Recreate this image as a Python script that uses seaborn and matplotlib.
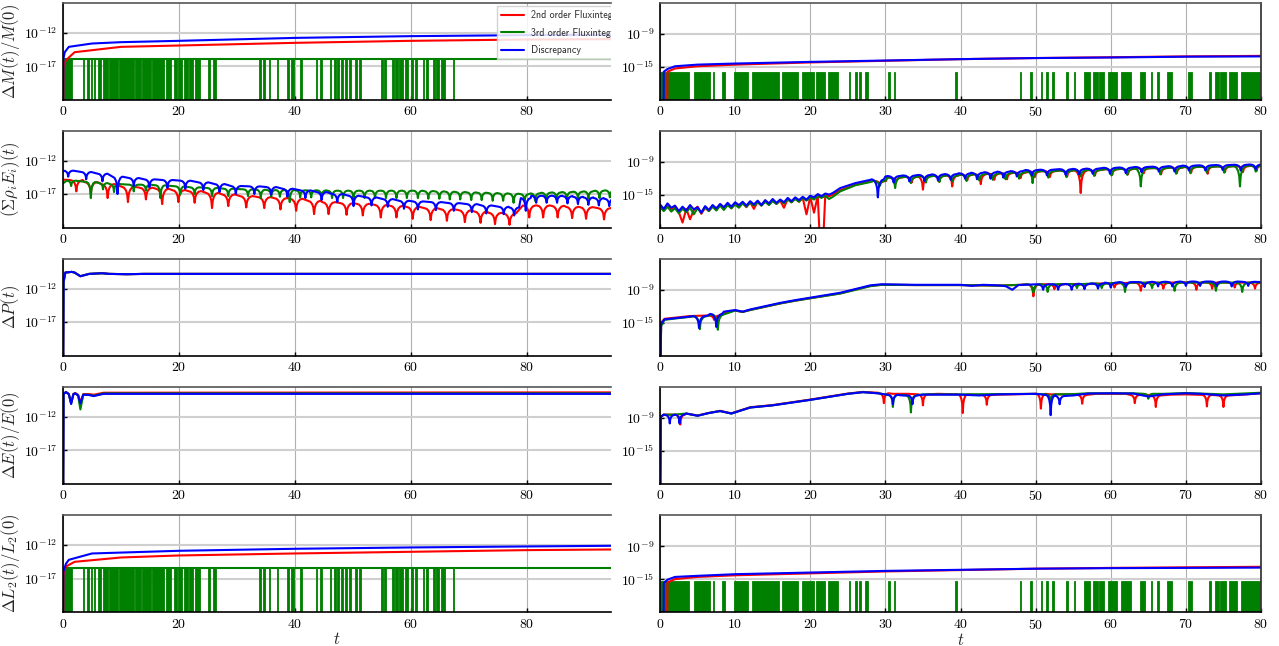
import numpy as np
import seaborn as sns
import matplotlib
matplotlib.use("Agg")
import matplotlib.pyplot as plt

# ---------------------------------------------------------------------------
# Data (log10 values).  knots = (t, log10 y),
# dips = (t, log10 top of the cusp, log10 bottom of the cusp)
# ---------------------------------------------------------------------------
ZERO = -30  # exact zero, drawn below the axis

# legend texts are cut off by the panel edge in the reference
labels = ["2nd order Fluxintegr", "3rd order Fluxintegr", "Discrepancy"]
ylabels = [r"$\Delta M(t)/M(0)$", r"$(\Sigma\rho_i E_i)(t)$", r"$\Delta P(t)$",
           r"$\Delta E(t)/E(0)$", r"$\Delta L_2(t)/L_2(0)$"]

# ---- row 1, left : mass
red_M_L = [(0, ZERO), (0.1, -17.0), (0.5, -16.1), (2, -14.9), (10, -14.1), (20, -13.9),
           (40, -13.5), (60, -13.2), (80, -13.0), (95, -12.95)]
blue_M_L = [(0, ZERO), (0.05, -16.0), (0.3, -14.9), (1, -14.1), (5, -13.6), (10, -13.4),
            (20, -13.2), (40, -12.76), (60, -12.5), (80, -12.35), (95, -12.3)]
green_M_L_level = -15.9
# intervals where the left green series drops to zero
green_drops_L = [(0, 1.6), (3.4, 3.6), (4.2, 4.4), (4.8, 5.0), (5.3, 5.6), (6.0, 6.6), (6.9, 7.8),
                 (8.0, 9.4), (9.6, 12.2), (12.5, 13.5), (13.7, 15.2), (15.4, 17.5), (17.7, 18.6),
                 (19.1, 19.6), (19.9, 20.6), (20.9, 21.5), (21.8, 22.4), (22.8, 23.6), (25.0, 25.3),
                 (25.8, 26.4), (33.8, 34.1), (34.5, 34.9), (35.5, 35.7), (36.9, 37.1), (38.6, 38.9),
                 (39.4, 39.8), (40.8, 41.2), (43.6, 43.8), (44.4, 44.7), (46.0, 46.3), (46.8, 47.0),
                 (47.3, 47.6), (48.0, 48.3), (48.6, 49.0), (49.3, 49.7), (50.4, 50.7), (51.1, 51.4),
                 (54.9, 55.2), (55.4, 55.7), (56.7, 57.0), (57.3, 57.8), (58.0, 58.6), (58.9, 59.5),
                 (60.0, 60.3), (60.7, 61.0), (62.0, 62.3), (62.6, 63.0), (63.8, 64.1), (64.4, 64.8),
                 (65.2, 65.8), (67.3, 67.5)]

# ---- row 1, right : mass
red_M_R = [(0.9, ZERO), (1.0, -15.9), (2, -15.3), (5, -14.9), (10, -14.6), (20, -14.2), (30, -13.9),
           (40, -13.6), (50, -13.4), (60, -13.25), (70, -13.1), (80, -13.0)]
blue_M_R = [(0.45, ZERO), (0.5, -15.9), (1, -15.4), (2, -14.9), (5, -14.6), (10, -14.4), (20, -14.1),
            (30, -13.85), (40, -13.6), (50, -13.4), (60, -13.3), (70, -13.15), (80, -13.1)]
green_M_R_level = -15.9
# intervals where the right green series is non-zero
green_hits_R = [(0, 3.8), (4.5, 6.7), (7.0, 7.2), (8.3, 8.6), (9.8, 11.7), (12.2, 15.9), (16.2, 18.4),
                (18.9, 20.5), (20.8, 22.0), (22.3, 23.7), (25.1, 25.3), (26.0, 26.2), (26.5, 26.8),
                (27.3, 27.7), (30.3, 30.6), (31.1, 31.3), (39.3, 39.5), (47.9, 48.1), (49.2, 49.5),
                (50.7, 50.9), (51.4, 51.6), (52.2, 52.4), (54.1, 54.3), (55.1, 55.3), (56.4, 57.2),
                (57.6, 58.3), (58.5, 59.1), (59.7, 60.8), (61.3, 62.7), (63.9, 64.5), (65.3, 65.5),
                (66.2, 66.4), (67.5, 68.2), (70.3, 70.8), (73.1, 73.3), (73.9, 74.4), (74.6, 75.4),
                (75.7, 76.8), (77.3, 80.0)]

# ---- row 2, left : sum rho_i E_i
red_S_L = [(0, -14.85), (95.4, -19.2)]
red_S_L_dips = [(2.3, -14.9, -16.6), (4.8, -15.2, -17.0), (7.7, -15.5, -17.6), (11.2, -15.9, -18.2),
                (14.3, -16.05, -17.8), (17.1, -16.2, -18.5), (19.9, -16.4, -18.2), (22.7, -16.55, -18.3),
                (25.7, -16.8, -19.1), (28.5, -17.05, -18.8), (31.6, -17.3, -19.0), (34.7, -17.45, -19.1),
                (37.5, -17.6, -19.3), (40.2, -17.7, -19.5), (43.3, -18.0, -20.0), (45.8, -18.2, -20.0),
                (48.9, -18.35, -20.1), (51.7, -18.45, -20.2), (54.8, -18.6, -20.5), (57.5, -18.75, -20.5),
                (60.3, -18.9, -20.7), (63.4, -19.1, -20.9), (66.2, -19.25, -21.0), (69.3, -19.4, -21.2),
                (72.0, -19.6, -21.3), (74.5, -19.8, -21.5), (77.0, -19.9, -21.6), (80.4, -18.7, -20.5),
                (82.8, -18.7, -20.5), (85.3, -18.75, -20.5), (87.8, -18.9, -20.6), (90.2, -18.95, -20.7),
                (93.3, -19.1, -20.8)]
green_S_L = [(0, -15.4), (95.4, -16.4)]
green_S_L_dips = [(1.4, -15.0, -15.8), (4.8, -15.2, -17.6), (6.9, -15.35, -16.3), (8.8, -15.5, -16.7),
                  (12.2, -15.6, -16.6), (14.3, -15.6, -16.5), (16.8, -15.7, -17.6), (20.2, -15.85, -17.1),
                  (22.7, -16.0, -17.0), (25.7, -16.1, -17.3), (28.5, -16.2, -17.3), (31.9, -16.3, -17.3),
                  (34.1, -16.35, -17.6), (35.9, -16.4, -17.4), (37.4, -16.4, -17.4), (39.1, -16.4, -18.2),
                  (40.9, -16.45, -17.5), (42.8, -16.45, -17.5), (44.6, -16.45, -17.5), (46.4, -16.5, -17.6),
                  (48.3, -16.5, -17.6), (50.1, -16.5, -17.6), (52.0, -16.5, -17.6), (53.8, -16.5, -17.6),
                  (55.7, -16.5, -17.6), (57.5, -16.5, -17.6), (59.3, -16.5, -17.6), (61.2, -16.5, -17.6),
                  (63.0, -16.55, -17.7), (64.9, -16.6, -17.7), (66.7, -16.65, -17.8), (68.5, -16.7, -17.8),
                  (70.4, -16.75, -17.9), (72.2, -16.8, -17.9), (74.1, -16.85, -18.0), (75.9, -16.9, -18.0),
                  (77.7, -16.95, -18.3), (79.6, -17.0, -18.1), (81.4, -16.9, -18.0), (83.3, -16.8, -17.9),
                  (85.1, -16.75, -17.8), (86.9, -16.7, -17.8), (88.8, -16.65, -17.7), (90.6, -16.6, -17.7),
                  (92.5, -16.5, -17.6), (94.3, -16.45, -17.5)]
blue_S_L = [(0, -13.5), (95.4, -17.7)]
blue_S_L_dips = [(0.9, -13.5, -14.4), (4.0, -13.7, -14.8), (6.8, -13.95, -15.1), (9.4, -14.4, -17.0),
                 (12.2, -14.6, -15.8), (14.9, -14.8, -16.0), (18.0, -14.9, -16.1), (21.1, -15.0, -16.2),
                 (24.2, -15.25, -16.4), (27.0, -15.5, -16.7), (29.8, -15.8, -17.0), (33.0, -15.85, -17.0),
                 (35.9, -15.95, -17.1), (38.7, -16.2, -17.4), (41.8, -16.45, -17.6), (44.6, -16.7, -17.9),
                 (47.3, -17.0, -18.2), (50.1, -17.25, -18.8), (53.2, -17.5, -18.7), (56.0, -17.75, -18.9),
                 (58.8, -18.0, -19.2), (61.2, -18.1, -19.3), (64.3, -18.2, -19.4), (67.4, -18.35, -19.5),
                 (70.5, -18.5, -19.7), (73.0, -18.7, -19.9), (76.0, -18.9, -20.0), (77.8, -19.0, -20.2),
                 (79.8, -17.6, -19.5), (81.6, -17.25, -18.3), (83.4, -17.25, -18.3), (85.2, -17.25, -18.3),
                 (87.0, -17.3, -18.4), (88.8, -17.4, -18.5), (90.6, -17.5, -18.6), (92.4, -17.6, -18.7),
                 (94.2, -17.7, -18.8)]

# ---- row 2, right : sum rho_i E_i (noisy start sampled every 0.5)
noise_t = np.arange(0, 23.5, 0.5)
blue_S_R_noise = [-16.8, -17.6, -16.6, -17.4, -17.0, -18.0, -17.2, -17.9, -16.9, -17.7, -17.3, -18.3,
                  -17.1, -17.8, -16.9, -17.5, -16.7, -17.3, -16.5, -17.2, -16.4, -16.9, -16.3, -17.0,
                  -16.2, -16.8, -16.1, -16.9, -16.0, -16.6, -15.8, -16.5, -15.9, -16.4, -15.6, -16.2,
                  -15.5, -16.0, -15.4, -15.9, -15.2, -15.5, -14.9, -15.3, -14.8, -15.0, -14.7]
red_S_R_noise = [-17.0, -17.9, -17.1, -17.8, -17.3, -18.2, -20.1, -17.6, -19.5, -17.8, -17.2, -18.5,
                 -17.4, -18.0, -17.1, -17.8, -16.9, -17.6, -16.8, -17.5, -16.6, -17.2, -16.5, -17.3,
                 -16.4, -17.6, -16.3, -17.0, -16.2, -16.8, -16.0, -16.7, -16.1, -17.4, -15.8, -16.4,
                 -15.7, -16.3, -15.6, -18.6, -15.4, -18.3, -15.2, ZERO, -15.1, -15.3, -15.0]
green_S_R_noise = [-17.3, -18.0, -17.2, -18.1, -17.5, -18.4, -17.6, -18.2, -17.4, -18.6, -17.5, -18.3,
                   -17.3, -18.0, -17.2, -17.9, -17.0, -17.8, -16.9, -17.5, -16.8, -17.4, -16.6, -17.2,
                   -16.5, -17.0, -16.4, -17.0, -16.3, -16.9, -16.2, -16.7, -16.0, -16.6, -15.9, -16.4,
                   -15.8, -16.3, -15.6, -16.1, -15.5, -15.9, -15.3, -15.6, -15.2, -15.8, -15.4]
blue_S_R = [(24, -13.8), (26, -12.9), (28, -12.3), (30, -11.7), (80, -9.45)]
blue_S_R_dips = [(29.0, -12.2, -15.5), (31.1, -11.6, -12.8), (33.2, -11.5, -12.6), (35.2, -11.4, -12.5),
                 (37.0, -11.3, -12.4), (38.7, -11.25, -12.3), (40.6, -11.1, -12.1), (42.2, -11.0, -12.2),
                 (44.0, -10.9, -12.1), (45.7, -10.8, -11.9), (47.5, -10.7, -11.7), (49.5, -10.5, -11.5),
                 (51.5, -10.45, -11.5), (54.0, -10.35, -11.4), (55.8, -10.3, -11.3), (57.6, -10.25, -11.2),
                 (59.9, -10.1, -11.2), (62.0, -10.05, -11.1), (64.1, -9.95, -10.9), (66.4, -9.9, -10.8),
                 (68.5, -9.8, -10.8), (70.4, -9.7, -10.6), (72.6, -9.65, -10.6), (74.9, -9.6, -10.5),
                 (77.3, -9.55, -10.6), (79.3, -9.5, -10.4)]
red_S_R = [(24, -14.2), (26, -13.2), (28, -12.6), (30.2, -11.95), (80, -9.6)]
red_S_R_dips = [(29.3, -12.5, -13.3), (31.4, -11.85, -12.9), (33.5, -11.75, -12.8), (35.0, -11.65, -14.1),
                (37.1, -11.55, -12.6), (38.9, -11.5, -13.5), (40.9, -11.35, -12.4), (42.7, -11.25, -13.1),
                (44.5, -11.15, -12.3), (46.2, -11.05, -12.2), (48.0, -10.95, -12.0), (49.9, -10.75, -11.8),
                (51.9, -10.7, -11.8), (54.2, -10.6, -11.7), (56.0, -10.6, -14.7), (57.9, -10.5, -11.5),
                (60.2, -10.35, -11.4), (62.3, -10.3, -11.3), (64.4, -10.2, -11.1), (66.7, -10.15, -11.3),
                (68.8, -10.05, -11.1), (70.7, -9.95, -11.0), (72.9, -9.9, -11.2), (75.2, -9.85, -10.9),
                (77.6, -9.8, -10.9), (79.4, -9.7, -10.7)]
green_S_R = [(24, -14.4), (26, -13.3), (28, -12.7), (30.2, -12.0), (80, -9.6)]
green_S_R_dips = [(29.2, -12.5, -13.5), (31.3, -11.85, -13.8), (33.4, -11.75, -12.9), (35.4, -11.65, -12.8),
                  (37.2, -11.55, -12.7), (38.9, -11.5, -12.6), (40.8, -11.35, -12.5), (42.5, -11.25, -12.4),
                  (44.3, -11.15, -12.3), (46.0, -11.05, -12.2), (47.8, -10.95, -12.1), (49.6, -10.75, -12.9),
                  (51.7, -10.7, -11.9), (54.1, -10.6, -11.8), (56.0, -10.55, -11.7), (57.8, -10.5, -11.6),
                  (60.1, -10.35, -11.5), (62.2, -10.3, -11.4), (64.0, -10.2, -13.5), (66.6, -10.15, -11.3),
                  (68.7, -10.05, -11.2), (70.6, -9.95, -11.1), (72.8, -9.9, -11.0), (75.1, -9.85, -11.0),
                  (77.2, -9.8, -13.5), (79.3, -9.7, -10.8)]

# ---- row 3 : momentum
blue_P_L = [(0, ZERO), (0.1, -11.0), (0.4, -9.6), (1.5, -9.5), (2.0, -9.6), (3.0, -10.15), (4.5, -9.8),
            (6.7, -9.7), (8, -9.8), (11, -9.85), (14, -9.8), (95.4, -9.8)]
blue_P_R = [(0, ZERO), (0.15, -15.2), (0.6, -14.4), (2, -14.2), (4, -13.9), (6.3, -13.75), (8.5, -13.0),
            (10, -12.7), (11, -13.0), (12, -12.6), (13, -12.3), (16, -11.4), (18, -10.9), (20, -10.45),
            (24, -9.55), (28, -8.2), (29.5, -8.0), (34, -8.1), (40, -8.1), (41.5, -8.3), (43, -8.1),
            (45, -8.2), (46, -8.35), (46.9, -9.0), (47.7, -8.15), (80, -7.6)]
blue_P_R_dips = [(5.2, -13.8, -16.0), (7.5, -13.4, -15.8), (51.0, -8.0, -9.0), (53.0, -8.0, -9.0),
                 (54.8, -7.95, -9.0), (56.5, -7.9, -8.9), (58.3, -7.85, -8.8), (60.0, -7.7, -8.6),
                 (62.0, -7.6, -8.5), (64.5, -7.6, -8.5), (66.3, -7.55, -8.4), (68.2, -7.55, -8.4),
                 (70.0, -7.5, -8.3), (71.9, -7.5, -8.3), (74.1, -7.5, -8.3), (76.1, -7.5, -8.4),
                 (78.3, -7.55, -8.3)]
red_P_R = [(0, ZERO), (0.15, -15.0), (0.6, -14.3), (2, -14.1), (4, -13.8), (5.2, -13.75),
           (8.5, -13.1), (10, -12.8), (11, -13.05), (12, -12.7), (13, -12.4), (16, -11.5), (18, -11.0),
           (20, -10.55), (24, -9.65), (28, -8.3), (29.5, -8.1), (34, -8.15), (40, -8.15), (45, -8.25),
           (48, -8.1), (80, -7.7)]
red_P_R_dips = [(7.2, -13.7, -14.5), (49.7, -8.0, -10.2), (52.5, -8.0, -8.9), (56.5, -7.95, -8.6),
                (60.5, -7.8, -8.6), (64.0, -7.7, -9.2), (67.0, -7.7, -8.8), (71.4, -7.65, -9.0),
                (73.5, -7.65, -8.8), (76.5, -7.7, -8.6), (79.2, -7.7, -8.8)]
green_P_R = [(0, ZERO), (0.15, -15.6), (0.6, -14.5), (2, -14.25), (4, -13.95), (6.3, -13.8), (8.5, -13.1),
             (10, -12.8), (11, -13.05), (12, -12.7), (13, -12.4), (16, -11.5), (18, -11.0), (20, -10.55),
             (24, -9.7), (28, -8.35), (29.5, -8.1), (34, -8.15), (40, -8.15), (45, -8.25), (48, -8.1),
             (80, -7.65)]
green_P_R_dips = [(5.3, -13.85, -16.2), (7.7, -13.5, -16.3), (49.7, -8.0, -9.5), (51.6, -8.0, -9.4),
                  (55.5, -7.95, -8.7), (58.8, -7.85, -8.7), (61.9, -7.7, -9.4), (65.5, -7.7, -8.7),
                  (68.5, -7.7, -9.2), (74.0, -7.7, -9.2), (77.5, -7.7, -9.4)]

# ---- row 4 : energy
blue_E_L = [(0, ZERO), (0.1, -8.6), (0.5, -8.3), (1.0, -8.6), (1.4, -10.1), (1.8, -8.6), (2.1, -8.5),
            (2.6, -8.8), (3.0, -10.0), (3.5, -8.7), (4.5, -8.75), (5.3, -8.9), (7, -8.57), (95.4, -8.57)]
red_E_L = [(0, ZERO), (0.1, -8.6), (0.5, -8.3), (1.0, -8.6), (1.4, -9.9), (1.8, -8.6), (2.1, -8.45),
           (2.6, -8.7), (3.0, -9.8), (3.5, -8.6), (4.5, -8.6), (5.3, -8.7), (7, -8.4), (95.4, -8.35)]
green_E_L = [(0, ZERO), (0.1, -8.6), (0.5, -8.3), (1.0, -8.6), (1.4, -10.0), (1.8, -8.6), (2.1, -8.5),
             (2.6, -8.8), (3.0, -10.9), (3.5, -8.7), (4.5, -8.7), (5.3, -8.85), (7, -8.5), (95.4, -8.5)]
blue_E_R = [(0, ZERO), (0.1, -8.8), (0.5, -8.4), (1.95, -8.4), (3.5, -8.2), (5, -8.6), (6.5, -8.1),
            (8, -7.75), (9.5, -8.2), (12, -7.1), (15, -6.7), (20, -5.7), (25, -4.6), (27, -4.3),
            (29, -4.5), (32.3, -4.9), (35, -4.75), (40, -4.75), (42.5, -4.9), (45, -4.7), (50, -4.6),
            (55, -4.9), (57, -4.55), (60, -4.5), (63, -4.55), (65, -5.1), (67, -4.7), (70, -4.5),
            (72, -4.6), (75, -4.9), (78, -4.7), (80, -4.5)]
blue_E_R_dips = [(1.3, -8.45, -10.0), (2.6, -8.4, -10.0), (31.0, -4.8, -6.5), (33.6, -4.9, -6.5),
                 (52.0, -4.8, -8.5), (53.2, -5.0, -6.5)]
red_E_R = [(0, ZERO), (0.1, -8.8), (0.5, -8.4), (1.8, -8.4), (3.5, -8.2), (5, -8.55), (6.5, -8.1),
           (8, -7.7), (9.5, -8.15), (12, -7.05), (15, -6.65), (20, -5.65), (25, -4.55), (27, -4.25),
           (29, -4.4), (31, -4.6), (33, -4.6), (37, -4.6), (42, -4.8), (45, -4.75), (52, -4.7),
           (55, -4.7), (58, -4.6), (62, -4.6), (64.5, -4.7), (68, -4.75), (70, -4.7), (77, -4.8),
           (80, -4.5)]
red_E_R_dips = [(2.7, -8.4, -10.2), (29.8, -4.5, -6.3), (35.0, -4.7, -6.7), (40.3, -4.7, -8.1),
                (43.5, -4.8, -6.6), (50.7, -4.6, -7.3), (56.2, -4.8, -6.4), (63.2, -4.8, -6.3),
                (66.0, -4.9, -7.0), (72.8, -4.8, -6.9), (75.0, -4.9, -7.0)]
green_E_R = [(0, ZERO), (0.1, -8.8), (0.5, -8.4), (1.8, -8.4), (3.5, -8.2), (5, -8.6), (6.5, -8.1),
             (8, -7.75), (9.5, -8.2), (12, -7.1), (15, -6.7), (20, -5.7), (25, -4.6), (27, -4.3),
             (29, -4.5), (32.3, -4.8), (35, -4.7), (40, -4.7), (45, -4.65), (50, -4.6), (55, -4.65),
             (57, -4.5), (60, -4.5), (63, -4.5), (67, -4.6), (70, -4.45), (75, -4.7), (80, -4.4)]
green_E_R_dips = [(31.0, -4.8, -7.0), (33.4, -4.9, -8.0), (52.0, -4.7, -6.0), (65.0, -4.6, -5.5)]

# ---- row 5 : L2 norm
red_L2_L = [(0, ZERO), (0.1, -16.5), (0.5, -15.2), (2, -14.5), (10, -13.85), (20, -13.55), (40, -13.25),
            (60, -13.0), (80, -12.75), (95, -12.65)]
blue_L2_L = [(0, ZERO), (0.05, -16.0), (0.5, -14.8), (1, -14.2), (5, -13.25), (20, -12.85), (40, -12.55),
             (60, -12.35), (80, -12.2), (95, -12.1)]
green_L2_L_level = -15.45
red_L2_R = [(0.9, ZERO), (1.0, -15.6), (2, -15.0), (5, -14.6), (10, -14.3), (20, -13.95), (30, -13.6),
            (40, -13.35), (50, -13.1), (60, -12.95), (70, -12.85), (80, -12.75)]
blue_L2_R = [(0.45, ZERO), (0.5, -15.7), (1, -15.1), (2, -14.6), (5, -14.4), (10, -14.1), (20, -13.8),
             (30, -13.5), (40, -13.3), (50, -13.1), (60, -13.0), (70, -12.95), (80, -12.9)]
green_L2_R_level = -15.3

RED, GREEN, BLUE = "#ff0000", "#008000", "#0000ff"

# shape of one cusp: offsets (fraction of half width) and drop (fraction of depth)
CUSP_POS = [1.0, 0.6, 0.3, 0.12, 0.0]
CUSP_DROP = [0.0, 0.07, 0.25, 0.5, 1.0]


def build(knots, dips=(), w=0.3):
    pts = [(t, v) for t, v in knots if all(abs(t - d[0]) >= w for d in dips)]
    for t, top, low in dips:
        for f, g in zip(CUSP_POS, CUSP_DROP):
            v = top - g * (top - low)
            pts.append((t - f * w, v))
            if f > 0:
                pts.append((t + f * w, v))
    pts.sort()
    t, v = zip(*pts)
    return np.array(t), 10.0 ** np.array(v)


def line(ax, t, y, color, label=None):
    sns.lineplot(x=t, y=y, ax=ax, color=color, lw=1.5, estimator=None, sort=False,
                 label=label, legend=False)


def green_bars(ax, intervals, level):
    s, e = zip(*intervals)
    ax.bar(x=s, height=10.0 ** level, width=np.subtract(e, s), bottom=1e-30, align="edge",
           color=GREEN, edgecolor=GREEN, lw=0.6)


sns.set_theme(style="white")
plt.rcParams.update({
    "font.family": ["cmr10", "DejaVu Serif"],
    "mathtext.fontset": "cm",
    "axes.unicode_minus": False,
    "axes.formatter.use_mathtext": True,
})

fig = plt.figure(figsize=(12.79, 6.46), dpi=100)
W, H = 1279.0, 646.0
row_tops = [2.7, 130.5, 258.5, 386.7, 515.0]
row_h = 97.0
col_x = [(63, 611), (660, 1261)]

axes = []
for r in range(5):
    pair = []
    for c in range(2):
        x0, x1 = col_x[c]
        ax = fig.add_axes([x0 / W, 1 - (row_tops[r] + row_h) / H, (x1 - x0) / W, row_h / H])
        ax.set_yscale("log")
        pair.append(ax)
    axes.append(pair)

wR = 0.8
t_lvl = [0, 0, 95.4]

# row 1
ax = axes[0][0]
line(ax, t_lvl, [10.0 ** ZERO, 10.0 ** green_M_L_level, 10.0 ** green_M_L_level], GREEN, labels[1])
green_bars(ax, green_drops_L, green_M_L_level)
line(ax, *build(red_M_L), RED, labels[0])
line(ax, *build(blue_M_L), BLUE, labels[2])

ax = axes[0][1]
green_bars(ax, green_hits_R, green_M_R_level)
line(ax, *build(red_M_R), RED)
line(ax, *build(blue_M_R), BLUE)

# row 2
ax = axes[1][0]
line(ax, *build(red_S_L, red_S_L_dips, 1.1), RED)
line(ax, *build(green_S_L, green_S_L_dips, 0.75), GREEN)
line(ax, *build(blue_S_L, blue_S_L_dips, 0.85), BLUE)

ax = axes[1][1]
for noise, knots, dips, col in [(red_S_R_noise, red_S_R, red_S_R_dips, RED),
                                (green_S_R_noise, green_S_R, green_S_R_dips, GREEN),
                                (blue_S_R_noise, blue_S_R, blue_S_R_dips, BLUE)]:
    knots_all = list(zip(noise_t, noise)) + knots
    line(ax, *build(knots_all, dips, wR), col)

# row 3
line(axes[2][0], *build(blue_P_L), RED)
line(axes[2][0], *build(blue_P_L), GREEN)
line(axes[2][0], *build(blue_P_L), BLUE)
line(axes[2][1], *build(red_P_R, red_P_R_dips, 0.8), RED)
line(axes[2][1], *build(green_P_R, green_P_R_dips, 0.8), GREEN)
line(axes[2][1], *build(blue_P_R, blue_P_R_dips, 0.8), BLUE)

# row 4
line(axes[3][0], *build(red_E_L), RED)
line(axes[3][0], *build(green_E_L), GREEN)
line(axes[3][0], *build(blue_E_L), BLUE)
line(axes[3][1], *build(red_E_R, red_E_R_dips, 0.6), RED)
line(axes[3][1], *build(green_E_R, green_E_R_dips, 0.6), GREEN)
line(axes[3][1], *build(blue_E_R, blue_E_R_dips, 0.6), BLUE)

# row 5
ax = axes[4][0]
line(ax, t_lvl, [10.0 ** ZERO, 10.0 ** green_L2_L_level, 10.0 ** green_L2_L_level], GREEN)
green_bars(ax, green_drops_L, green_L2_L_level)
line(ax, *build(red_L2_L), RED)
line(ax, *build(blue_L2_L), BLUE)

ax = axes[4][1]
green_bars(ax, green_hits_R, green_L2_R_level)
line(ax, *build(red_L2_R), RED)
line(ax, *build(blue_L2_R), BLUE)

# styling
for r in range(5):
    for c in range(2):
        ax = axes[r][c]
        if c == 0:
            ax.set_xlim(0, 94.5)
            ax.set_ylim(1e-22, 10 ** -7.5)
            ax.set_xticks([0, 20, 40, 60, 80])
            ax.set_xticklabels([r"$%d$" % v for v in [0, 20, 40, 60, 80]])
            ax.set_yticks([1e-17, 1e-12])
            ax.set_yticklabels([r"$10^{-17}$", r"$10^{-12}$"])
            ax.spines["right"].set_visible(False)
            ax.set_ylabel(ylabels[r], fontsize=12)
            ax.yaxis.set_label_coords(-0.074, 0.5)
        else:
            ax.set_xlim(0, 80)
            ax.set_ylim(1e-21, 10 ** -3.3)
            ax.set_xticks(range(0, 81, 10))
            ax.set_xticklabels([r"$%d$" % v for v in range(0, 81, 10)])
            ax.set_yticks([1e-15, 1e-9])
            ax.set_yticklabels([r"$10^{-15}$", r"$10^{-9}$"])
            ax.set_ylabel("")
        ax.yaxis.set_minor_locator(matplotlib.ticker.NullLocator())
        ax.set_xlabel(r"$t$" if r == 4 else "", fontsize=12, labelpad=0)
        ax.grid(True, axis="x", color="#b0b0b0", lw=0.8)
        ax.grid(True, axis="y", color="#cfcfcf", lw=1.5)
        ax.tick_params(direction="in", length=3, width=1, labelsize=10, pad=4,
                       bottom=True, left=True, colors="black")
        for sp in ["left", "bottom"]:
            ax.spines[sp].set_color("black")
            ax.spines[sp].set_linewidth(1.2)
        ax.spines["top"].set_color("#555555")
        ax.spines["top"].set_linewidth(1.2)
        ax.spines["right"].set_color("#333333")

# legend (clipped at the cropped edge like in the reference)
ax = axes[0][0]
handles, names = ax.get_legend_handles_labels()
order = [names.index(n) for n in labels]
leg = ax.legend([handles[i] for i in order], [names[i] for i in order],
                loc="upper left", bbox_to_anchor=(0.792, 0.965), borderaxespad=0,
                prop={"family": ["cmss10", "DejaVu Sans"], "size": 7.2},
                frameon=True, fancybox=False, edgecolor="#cccccc", framealpha=0.85,
                handlelength=2.3, handletextpad=0.7, labelspacing=0.75)
for a in leg.findobj():
    a.set_clip_box(ax.bbox)
    a.set_clip_on(True)

fig.savefig("out.png", dpi=100)
